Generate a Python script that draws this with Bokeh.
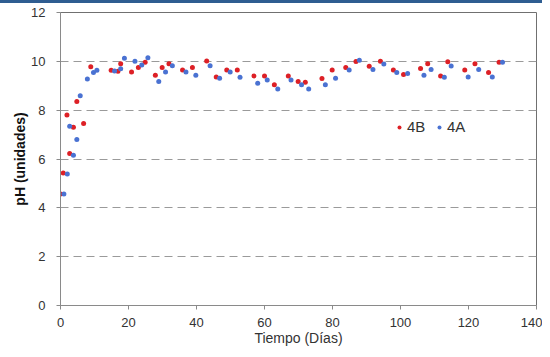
from bokeh.plotting import figure
from bokeh.models import Range1d, Legend, LegendItem, FixedTicker, Div
from bokeh.layouts import column
from bokeh.embed import file_html
from bokeh.resources import INLINE

days_4B = [0, 0.8, 1.9, 2.7, 3.8, 4.8, 6.8, 8.9, 14.9, 16.9, 17.7, 20.9, 22.9, 24.9,
           27.9, 29.9, 31.9, 35.9, 38.8, 43, 45.8, 48.9, 52, 56.9, 60, 62.9, 67, 69.9,
           72, 76.9, 79.9, 83.9, 86.9, 90.8, 94.1, 97.9, 100.9, 105.9, 108, 111.8,
           113.9, 118.9, 121.9, 125.9, 129]
ph_4B = [4.57, 5.43, 7.8, 6.23, 7.30, 8.35, 7.45, 9.78, 9.63, 9.59, 9.9, 9.56, 9.75, 9.96,
         9.43, 9.75, 9.9, 9.65, 9.75, 10.01, 9.36, 9.65, 9.65, 9.40, 9.40, 9.04, 9.40, 9.17,
         9.14, 9.3, 9.65, 9.75, 9.99, 9.8, 10.0, 9.65, 9.46, 9.71, 9.9, 9.40,
         9.98, 9.65, 9.9, 9.54, 9.96]

days_4A = [1, 2, 2.7, 3.8, 4.8, 5.8, 7.9, 9.7, 10.7, 15.9, 17.7, 18.8, 21.9, 23.9, 25.7,
           28.9, 30.9, 32.9, 36.9, 39.8, 44, 46.8, 49.9, 52.8, 58, 60.8, 63.9, 67.8, 70.9,
           73, 77.9, 80.9, 84.9, 87.9, 91.9, 95.1, 98.9, 102.1, 106.9, 109, 112.9, 114.9,
           119.9, 123, 127, 130]
ph_4A = [4.57, 5.39, 7.34, 6.15, 6.8, 8.59, 9.28, 9.54, 9.63, 9.6, 9.7, 10.13, 10.0, 9.85, 10.15,
         9.17, 9.56, 9.82, 9.56, 9.43, 9.82, 9.31, 9.56, 9.35, 9.1, 9.24, 8.87, 9.24, 9.04,
         8.87, 9.04, 9.31, 9.65, 10.04, 9.67, 9.89, 9.54, 9.5, 9.43, 9.67, 9.35, 9.81,
         9.36, 9.67, 9.36, 9.96]

x_ticks = [0, 20, 40, 60, 80, 100, 120, 140]
y_ticks = [0, 2, 4, 6, 8, 10, 12]
grid_ticks = [2, 4, 6, 8, 10]

RED = "#DD2026"
BLUE = "#4A72D2"
FONT = "Liberation Sans"

bar = Div(text="", width=542, height=3, margin=0,
          styles={"background-color": "#2F5D91"})

p = figure(width=542, height=346, output_backend="svg", toolbar_location=None,
           x_range=Range1d(0, 140), y_range=Range1d(0, 12),
           min_border_left=60, min_border_right=6, min_border_top=9, min_border_bottom=44)

r_b = p.scatter(days_4B, ph_4B, size=5, color=RED, line_color=None)
r_a = p.scatter(days_4A, ph_4A, size=5, color=BLUE, line_color=None)

p.xaxis.ticker = FixedTicker(ticks=x_ticks)
p.yaxis.ticker = FixedTicker(ticks=y_ticks)
p.xgrid.visible = False
p.ygrid.ticker = FixedTicker(ticks=grid_ticks)
p.ygrid.grid_line_color = "#9a9a9a"
p.ygrid.grid_line_dash = "8 5"
p.ygrid.grid_line_width = 1

for ax in (p.xaxis, p.yaxis):
    ax.axis_line_color = "#8a8a8a"
    ax.major_tick_line_color = "#8a8a8a"
    ax.major_tick_out = 4
    ax.major_tick_in = 0
    ax.minor_tick_line_color = None
    ax.major_label_text_font = FONT
    ax.major_label_text_font_size = "13px"
    ax.major_label_text_color = "#333333"

p.xaxis.major_label_standoff = 8
p.yaxis.major_label_standoff = 11

p.xaxis.axis_label = "Tiempo (Días)"
p.xaxis.axis_label_text_font = FONT
p.xaxis.axis_label_text_font_size = "14px"
p.xaxis.axis_label_text_font_style = "normal"
p.xaxis.axis_label_text_color = "#333333"
p.xaxis.axis_label_standoff = 0

p.yaxis.axis_label = "pH (unidades)"
p.yaxis.axis_label_text_font = FONT
p.yaxis.axis_label_text_font_size = "14px"
p.yaxis.axis_label_text_font_style = "bold"
p.yaxis.axis_label_text_color = "#111111"
p.yaxis.axis_label_standoff = 0

p.outline_line_color = "#707070"
p.outline_line_width = 1

legend = Legend(items=[LegendItem(label="4B", renderers=[r_b]),
                       LegendItem(label="4A", renderers=[r_a])],
                orientation="horizontal", location=(334, 170),
                border_line_color=None, background_fill_alpha=0,
                padding=0, margin=0, spacing=7, label_standoff=3,
                glyph_width=10, glyph_height=16, label_height=16,
                label_text_font=FONT, label_text_font_size="15px",
                label_text_color="#333333")
p.add_layout(legend)

layout = column(bar, p, spacing=0)
open("out.html", "w").write(file_html(layout, INLINE))
